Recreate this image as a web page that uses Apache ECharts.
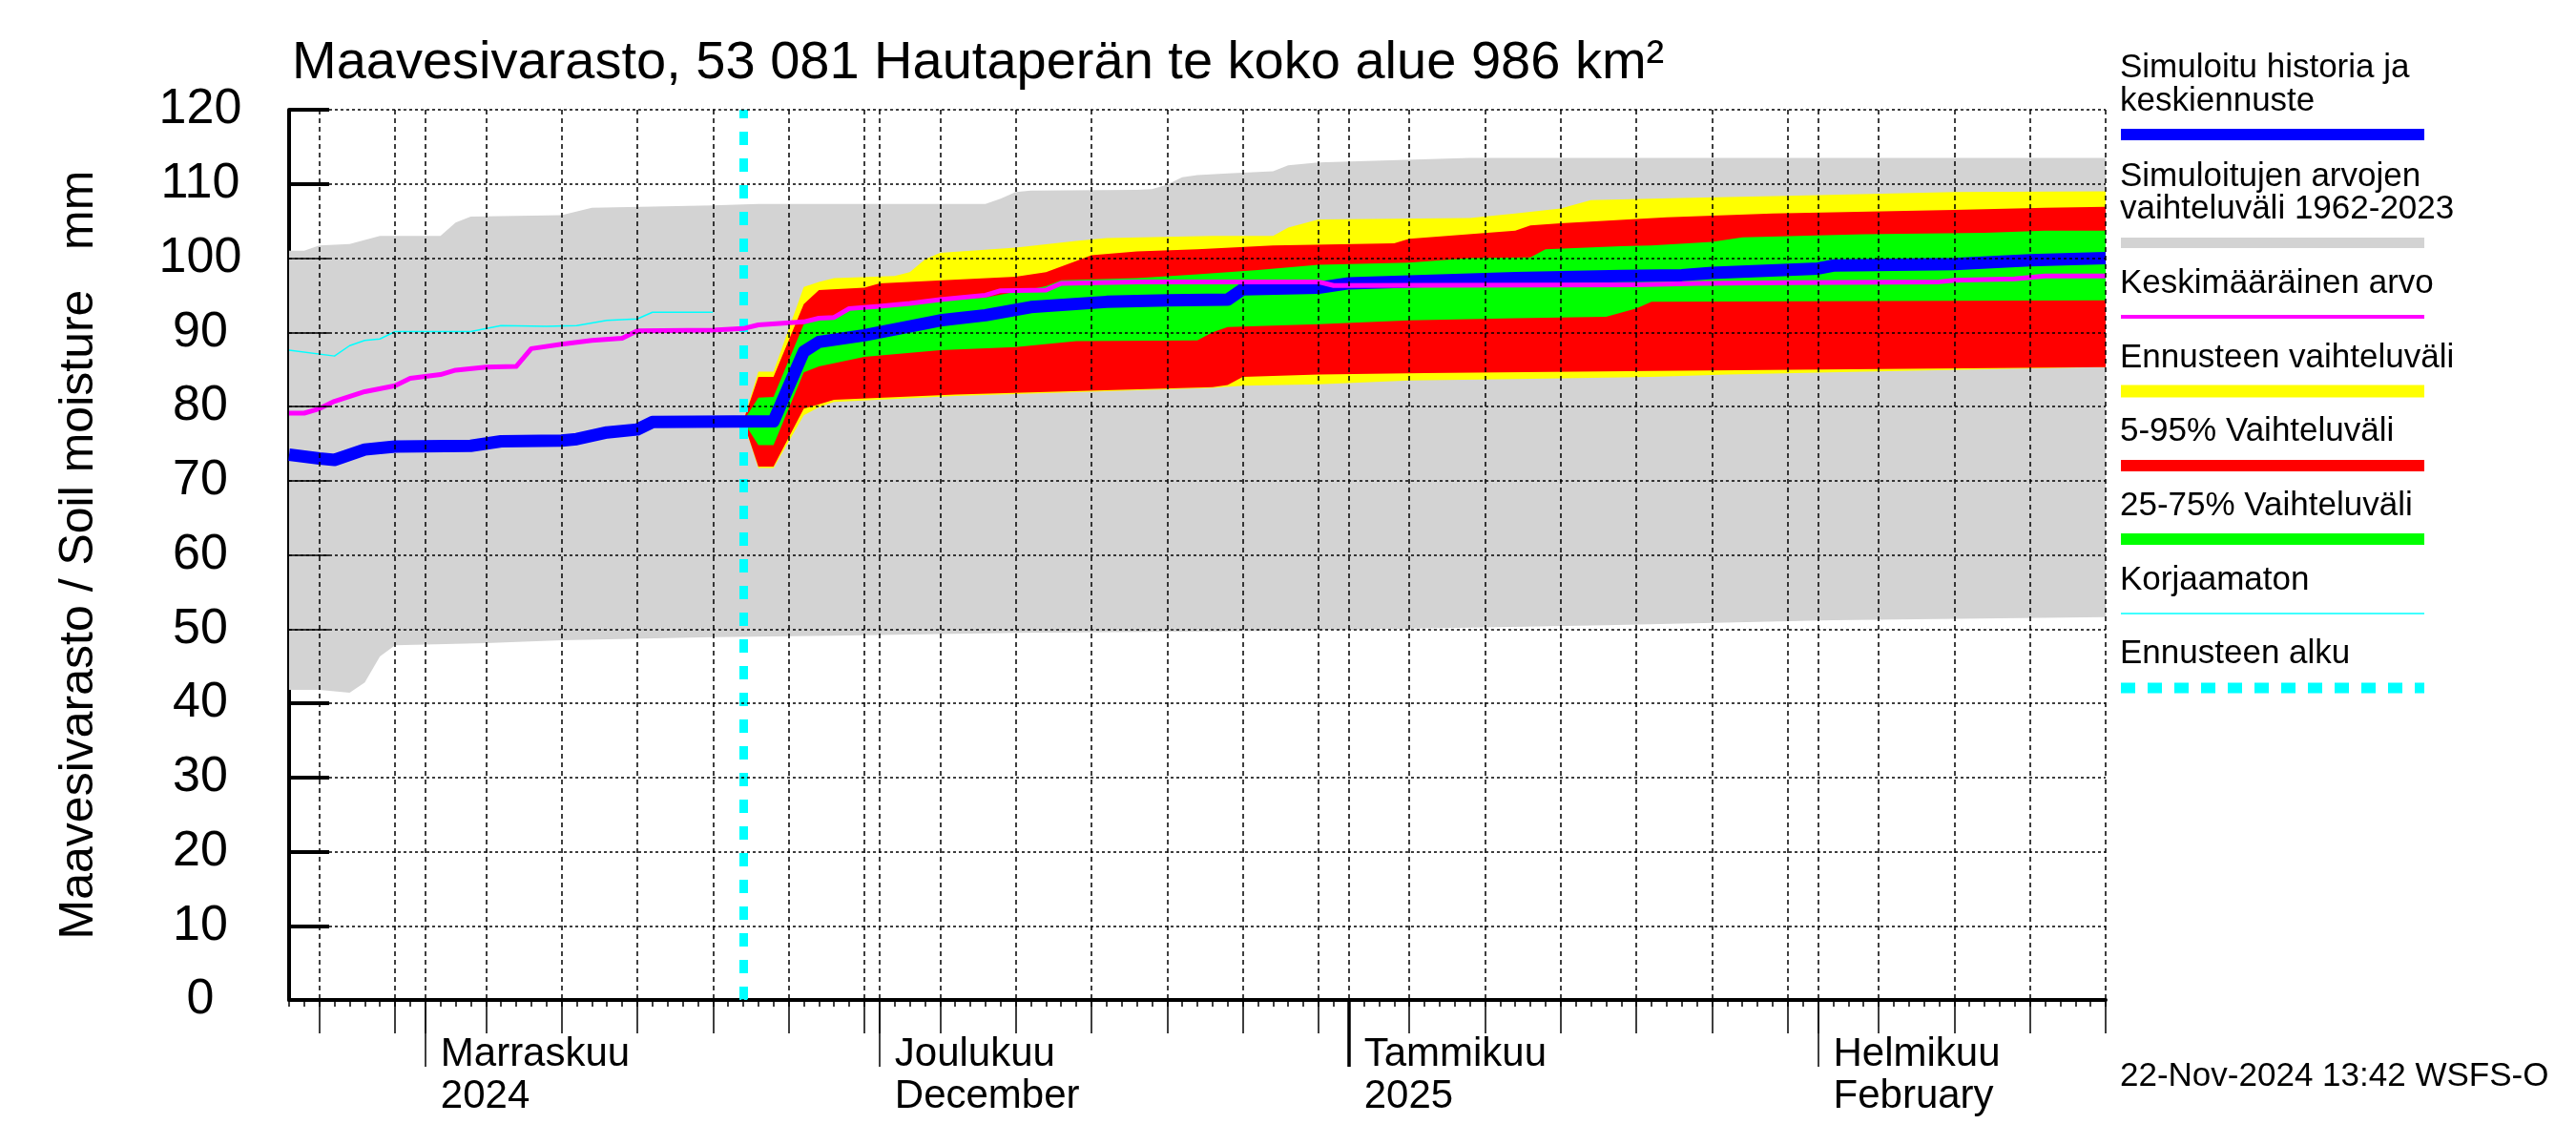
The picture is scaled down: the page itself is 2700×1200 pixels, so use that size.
<!DOCTYPE html>
<html>
<head>
<meta charset="utf-8">
<script src="https://cdn.jsdelivr.net/npm/echarts@6/dist/echarts.min.js"></script>
<style>html,body{margin:0;padding:0;background:#fff}#c{width:2700px;height:1200px}</style>
</head>
<body>
<div id="c"></div>
<script>
const FONT = '"Liberation Sans", Arial, Helvetica, sans-serif';

// ---------------- data (dates as MM-DD, Oct-Dec = 2024, Jan-Feb = 2025) ----------------
const titleText = 'Maavesivarasto, 53 081 Hautaperän te koko alue 986 km²';
const yAxisTitle = 'Maavesivarasto / Soil moisture   mm';
const stampText = '22-Nov-2024 13:42 WSFS-O';
const forecastStart = '11-22';

const grayUpper = [['10-23',101.0],['10-24',101.0],['10-25',101.7],['10-27',101.9],['10-29',103.0],['11-02',103.0],['11-03',104.8],['11-04',105.6],['11-10',105.8],['11-12',106.8],['11-20',107.1],['11-23',107.3],['12-08',107.3],['12-09',108.0],['12-10',108.9],['12-11',109.1],['12-18',109.2],['12-19',109.3],['12-20',109.9],['12-21',110.9],['12-22',111.2],['12-24',111.4],['12-27',111.7],['12-28',112.5],['12-30',112.9],['01-09',113.5],['02-20',113.5]];
const grayLower = [['10-23',41.8],['10-25',41.8],['10-27',41.4],['10-28',42.8],['10-29',46.3],['10-30',47.8],['11-05',48.1],['11-10',48.5],['11-20',48.9],['11-28',49.1],['12-10',49.5],['12-25',49.7],['01-01',49.9],['01-18',50.5],['02-02',51.2],['02-20',51.6]];

const yellowUpper = [['11-22',78.0],['11-23',84.7],['11-24',84.7],['11-26',96.1],['11-27',96.8],['11-28',97.3],['12-02',97.6],['12-03',98.1],['12-04',99.8],['12-05',100.7],['12-10',101.4],['12-14',102.3],['12-16',102.7],['12-23',103.0],['12-27',103.0],['12-28',104.1],['12-30',105.2],['01-09',105.4],['01-12',106.0],['01-15',106.7],['01-17',107.8],['01-23',108.1],['01-30',108.4],['02-10',108.9],['02-20',109.0]];
const yellowLower = [['11-22',78.0],['11-23',71.7],['11-24',71.7],['11-26',78.8],['11-27',79.9],['11-28',80.6],['12-06',81.4],['12-23',82.5],['12-25',82.8],['12-30',83.0],['01-05',83.5],['01-12',83.7],['01-21',84.0],['01-26',84.3],['02-04',84.7],['02-17',85.2],['02-20',85.3]];

const redUpper = [['11-22',78.0],['11-23',84.0],['11-24',84.0],['11-26',93.8],['11-27',95.7],['11-30',96.0],['12-01',96.6],['12-10',97.5],['12-12',98.1],['12-14',99.6],['12-15',100.4],['12-18',100.9],['12-22',101.2],['12-27',101.7],['01-04',102.0],['01-05',102.6],['01-12',103.7],['01-13',104.4],['01-15',104.7],['01-22',105.5],['01-29',106.0],['02-10',106.5],['02-16',106.8],['02-20',106.9]];
const redLower = [['11-22',78.0],['11-23',71.9],['11-24',71.9],['11-26',79.7],['11-27',80.3],['11-28',80.9],['12-06',81.6],['12-23',82.6],['12-24',82.9],['12-25',84.0],['12-30',84.3],['01-06',84.5],['01-21',84.8],['02-20',85.3]];

const greenUpper = [['11-22',78.0],['11-23',81.2],['11-24',81.3],['11-26',91.1],['11-28',92.3],['11-29',93.0],['12-03',93.9],['12-08',94.7],['12-12',96.2],['12-13',97.0],['12-18',97.3],['12-22',97.8],['12-26',98.4],['12-30',99.1],['01-05',99.4],['01-09',100.0],['01-13',100.1],['01-14',101.2],['01-19',101.6],['01-21',101.7],['01-25',102.2],['01-27',102.8],['02-04',103.2],['02-12',103.4],['02-16',103.7],['02-20',103.7]];
const greenLower = [['11-22',78.0],['11-23',74.8],['11-24',74.8],['11-26',84.6],['11-27',85.4],['11-30',86.7],['12-05',87.6],['12-10',88.0],['12-14',88.8],['12-22',88.9],['12-23',90.0],['12-24',90.7],['12-30',91.1],['01-05',91.6],['01-12',91.9],['01-18',92.1],['01-20',93.2],['01-21',94.1],['02-20',94.3]];

const simulated = [['10-23',73.5],['10-25',73.0],['10-26',72.8],['10-28',74.2],['10-30',74.6],['11-04',74.7],['11-06',75.3],['11-10',75.4],['11-11',75.6],['11-13',76.5],['11-15',76.9],['11-16',77.9],['11-24',78.0],['11-26',87.4],['11-27',88.7],['11-30',89.6],['12-03',90.8],['12-05',91.6],['12-08',92.3],['12-11',93.4],['12-16',94.1],['12-20',94.3],['12-24',94.4],['12-25',95.8],['12-30',96.0],['01-01',96.6],['01-06',96.9],['01-12',97.3],['01-19',97.6],['01-23',97.7],['01-25',98.0],['02-01',98.6],['02-02',99.0],['02-10',99.2],['02-15',99.7],['02-20',100.0]];
const meanValue = [['10-23',79.1],['10-24',79.1],['10-25',79.7],['10-26',80.7],['10-28',82.0],['10-30',82.8],['10-31',83.8],['11-02',84.3],['11-03',84.9],['11-05',85.3],['11-07',85.4],['11-08',87.8],['11-10',88.4],['11-12',88.9],['11-14',89.2],['11-15',90.2],['11-20',90.3],['11-22',90.5],['11-23',91.0],['11-26',91.4],['11-27',91.9],['11-28',92.0],['11-29',93.2],['12-01',93.5],['12-03',93.9],['12-05',94.4],['12-08',95.0],['12-09',95.6],['12-12',95.7],['12-13',96.6],['12-18',96.8],['12-30',96.8],['12-31',96.3],['01-20',96.4],['01-24',96.6],['01-30',96.7],['02-09',96.8],['02-10',97.0],['02-14',97.2],['02-16',97.6],['02-20',97.6]];
const uncorrected = [['10-23',87.6],['10-26',86.8],['10-27',88.2],['10-28',88.9],['10-29',89.1],['10-30',90.1],['11-04',90.1],['11-06',90.9],['11-09',90.8],['11-11',90.9],['11-13',91.6],['11-15',91.8],['11-16',92.7],['11-20',92.7]];

const gridDays = ['10-25','10-30','11-01','11-05','11-10','11-15','11-20','11-25','11-30','12-01','12-05','12-10','12-15','12-20','12-25','12-30','01-01','01-05','01-10','01-15','01-20','01-25','01-30','02-01','02-05','02-10','02-15','02-20'];
const monthStarts = ['11-01','12-01','01-01','02-01'];
const monthLabels = ['Marraskuu\n2024','Joulukuu\nDecember','Tammikuu\n2025','Helmikuu\nFebruary'];
const yearStart = ['01-01'];

const legendEntries = [
  {lines:['Simuloitu historia ja','keskiennuste'], color:'#0000FF'},
  {lines:['Simuloitujen arvojen','vaihteluväli 1962-2023'], color:'#D3D3D3'},
  {lines:['Keskimääräinen arvo'], color:'#FF00FF'},
  {lines:['Ennusteen vaihteluväli'], color:'#FFFF00'},
  {lines:['5-95% Vaihteluväli'], color:'#FF0000'},
  {lines:['25-75% Vaihteluväli'], color:'#00FF00'},
  {lines:['Korjaamaton'], color:'#00FFFF'},
  {lines:['Ennusteen alku'], color:'#00FFFF'}
];

// ---------------- helpers ----------------
const DAY = 86400000;
function T(s){ const [m,d] = s.split('-').map(Number); return Date.UTC(m >= 10 ? 2024 : 2025, m-1, d); }
function pts(arr){ return arr.map(p => [T(p[0]), p[1]]); }
const X_MIN = T('10-23'), X_MAX = T('02-20');

function band(name, upper, lower, color, z){
  const up = pts(upper), lo = pts(lower);
  return {
    type:'custom', name:name, z:z, silent:true, clip:true,
    data: up, encode:{x:0, y:1},
    renderItem: function(params, api){
      if (params.dataIndex !== 0) return null;
      const points = up.map(p => api.coord(p)).concat(lo.slice().reverse().map(p => api.coord(p)));
      return {type:'polygon', shape:{points:points}, style:{fill:color}};
    }
  };
}
function line(name, arr, color, width, z, extra){
  return Object.assign({
    type:'line', name:name, z:z, data:pts(arr), showSymbol:false, symbol:'none', silent:true,
    lineStyle:{color:color, width:width, join:'round'}
  }, extra || {});
}

const baseX = {type:'value', min:X_MIN, max:X_MAX, position:'bottom',
  axisLabel:{show:false}, splitLine:{show:false}, axisLine:{show:false}, axisTick:{show:false}};
const blackTick = w => ({color:'#000', width:w});

// ---------------- legend graphic ----------------
const legendTextY = [[71.5,106],[185,219],[297],[375],[452],[530],[608],[685]];
const legendLineY = [141,254.5,332,410,488,565,643,721];
const legendLineW = [12,11,4,13,12,12,1.5,11];
const graphics = [];
graphics.push({type:'text', x:306, y:67, silent:true,
  style:{text:titleText, font:'56px ' + FONT, fill:'#000', align:'left', verticalAlign:'middle'}});
legendEntries.forEach((e,i) => {
  e.lines.forEach((t,j) => graphics.push({type:'text', x:2222, y:legendTextY[i][j], silent:true,
    style:{text:t, font:'35px ' + FONT, fill:'#000', align:'left', verticalAlign:'middle'}}));
  graphics.push({type:'line', silent:true, shape:{x1:2223, y1:legendLineY[i], x2:2541, y2:legendLineY[i]},
    style:{stroke:e.color, lineWidth:legendLineW[i], lineDash: i === 7 ? [15,13] : null}});
});
graphics.push({type:'text', x:2222, y:1128, silent:true,
  style:{text:stampText, font:'35px ' + FONT, fill:'#000', align:'left', verticalAlign:'middle'}});

// ---------------- chart ----------------
const chart = echarts.init(document.getElementById('c'), null, {renderer:'canvas', width:2700, height:1200});
chart.setOption({
  animation:false,
  backgroundColor:'#fff',
  grid:{left:303, right:493, top:115, bottom:152, containLabel:false, outerBoundsMode:'none'},
  xAxis:[
    Object.assign({}, baseX, {interval:DAY,
      axisLine:{show:true, onZero:false, lineStyle:blackTick(4)},
      axisTick:{show:true, length:7, lineStyle:blackTick(1.5)}}),
    Object.assign({}, baseX, {z:10,
      axisTick:{show:true, length:35, customValues:gridDays.map(T), lineStyle:blackTick(1.5)},
      splitLine:{show:true, lineStyle:{color:'#000', width:1.5, type:[5,4]}}}),
    Object.assign({}, baseX, {
      axisTick:{show:true, length:70, customValues:monthStarts.map(T), lineStyle:blackTick(1.5)},
      axisLabel:{show:true, customValues:monthStarts.map(T), align:'left', verticalAlign:'top',
        margin:35, padding:[0,0,0,16], fontSize:42, lineHeight:44, color:'#000', fontFamily:FONT,
        formatter: v => monthLabels[monthStarts.map(T).indexOf(v)] || ''}}),
    Object.assign({}, baseX, {
      axisTick:{show:true, length:70, customValues:yearStart.map(T), lineStyle:blackTick(3.5)}})
  ],
  yAxis:[
    {type:'value', position:'left', min:0, max:120, interval:10,
     axisLine:{show:true, onZero:false, lineStyle:blackTick(4)},
     axisTick:{show:true, inside:true, length:42, lineStyle:blackTick(4)},
     axisLabel:{fontSize:52, color:'#000', fontFamily:FONT, align:'center', margin:93, padding:[0,0,14,0]},
     splitLine:{show:false},
     name:yAxisTitle, nameLocation:'middle', nameGap:195,
     nameTextStyle:{fontSize:50, fontFamily:FONT, color:'#000'}},
    {type:'value', position:'left', min:0, max:120, interval:10, z:10,
     axisLine:{show:false}, axisLabel:{show:false},
     axisTick:{show:true, inside:true, length:42, lineStyle:blackTick(1.5)},
     splitLine:{show:true, lineStyle:{color:'#000', width:1.5, type:[3,3]}}}
  ],
  graphic: graphics,
  series:[
    band('Simuloitujen arvojen vaihteluväli 1962-2023', grayUpper, grayLower, '#D3D3D3', 1),
    band('Ennusteen vaihteluväli', yellowUpper, yellowLower, '#FFFF00', 2),
    band('5-95% Vaihteluväli', redUpper, redLower, '#FF0000', 3),
    band('25-75% Vaihteluväli', greenUpper, greenLower, '#00FF00', 4),
    line('Korjaamaton', uncorrected, '#00FFFF', 1.5, 5),
    line('Simuloitu historia ja keskiennuste', simulated, '#0000FF', 13, 6, {
      markLine:{silent:true, symbol:['none','none'], label:{show:false}, animation:false,
        lineStyle:{color:'#00FFFF', width:9, type:[14,14]},
        data:[{xAxis:T(forecastStart)}]}
    }),
    line('Keskimääräinen arvo', meanValue, '#FF00FF', 5, 7)
  ]
});
</script>
</body>
</html>
